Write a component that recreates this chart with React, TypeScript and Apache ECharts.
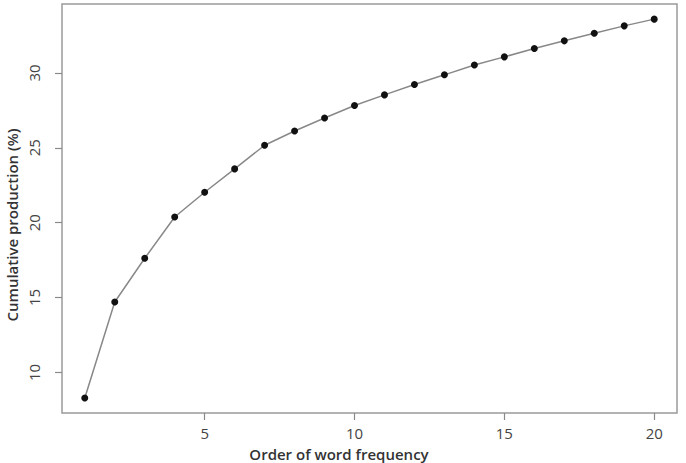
import React, { useEffect, useRef } from "react";
import * as echarts from "echarts";

const ranks = [1, 2, 3, 4, 5, 6, 7, 8, 9, 10, 11, 12, 13, 14, 15, 16, 17, 18, 19, 20];
const cumulative = [8.29, 14.7, 17.62, 20.38, 22.03, 23.59, 25.17, 26.12, 26.99, 27.82, 28.53, 29.22, 29.87, 30.53, 31.07, 31.63, 32.14, 32.65, 33.14, 33.59];
const xTicks = [5, 10, 15, 20];
const yTicks = [10, 15, 20, 25, 30];
const xTitle = "Order of word frequency";
const yTitle = "Cumulative production (%)";

export default function App() {
  const ref = useRef<HTMLDivElement>(null);
  useEffect(() => {
    if (!ref.current) return;
    const chart = echarts.init(ref.current, null, { renderer: "svg" });
    const font = "'Open Sans', 'Noto Sans', sans-serif";
    chart.setOption({
      animation: false,
      backgroundColor: "#ffffff",
      grid: {
        left: 62,
        right: 9,
        top: 4,
        bottom: 50,
        show: true,
        borderColor: "#9a9a9a",
        borderWidth: 1.5,
        backgroundColor: "transparent",
      },
      xAxis: {
        type: "value",
        min: 0.24,
        max: 20.76,
        axisLine: { show: false },
        splitLine: { show: false },
        axisTick: {
          show: true,
          length: 7,
          customValues: xTicks,
          lineStyle: { color: "#8a8a8a", width: 1.2 },
        },
        axisLabel: {
          customValues: xTicks,
          margin: 12,
          color: "#444",
          fontSize: 15,
          fontFamily: font,
        },
      },
      yAxis: {
        type: "value",
        min: 7.29,
        max: 34.6,
        axisLine: { show: false },
        splitLine: { show: false },
        axisTick: {
          show: true,
          length: 7,
          customValues: yTicks,
          lineStyle: { color: "#8a8a8a", width: 1.2 },
        },
        axisLabel: {
          customValues: yTicks,
          rotate: 90,
          margin: 21,
          color: "#444",
          fontSize: 15,
          fontFamily: font,
        },
      },
      graphic: [
        {
          type: "text",
          x: 339,
          y: 454,
          style: {
            text: xTitle,
            fill: "#333",
            font: `600 15px ${font}`,
            textAlign: "center",
            textVerticalAlign: "middle",
          },
        },
        {
          type: "text",
          x: 12,
          y: 225,
          rotation: Math.PI / 2,
          style: {
            text: yTitle,
            fill: "#333",
            font: `600 15px ${font}`,
            textAlign: "center",
            textVerticalAlign: "middle",
          },
        },
      ],
      series: [
        {
          type: "line",
          data: ranks.map((r, i) => [r, cumulative[i]]),
          symbol: "circle",
          symbolSize: 7,
          itemStyle: { color: "#111" },
          lineStyle: { color: "#888", width: 1.5 },
        },
      ],
    });
    return () => chart.dispose();
  }, []);
  return (
    <div
      ref={ref}
      style={{ position: "fixed", left: 0, top: 0, width: 686, height: 463 }}
    />
  );
}
